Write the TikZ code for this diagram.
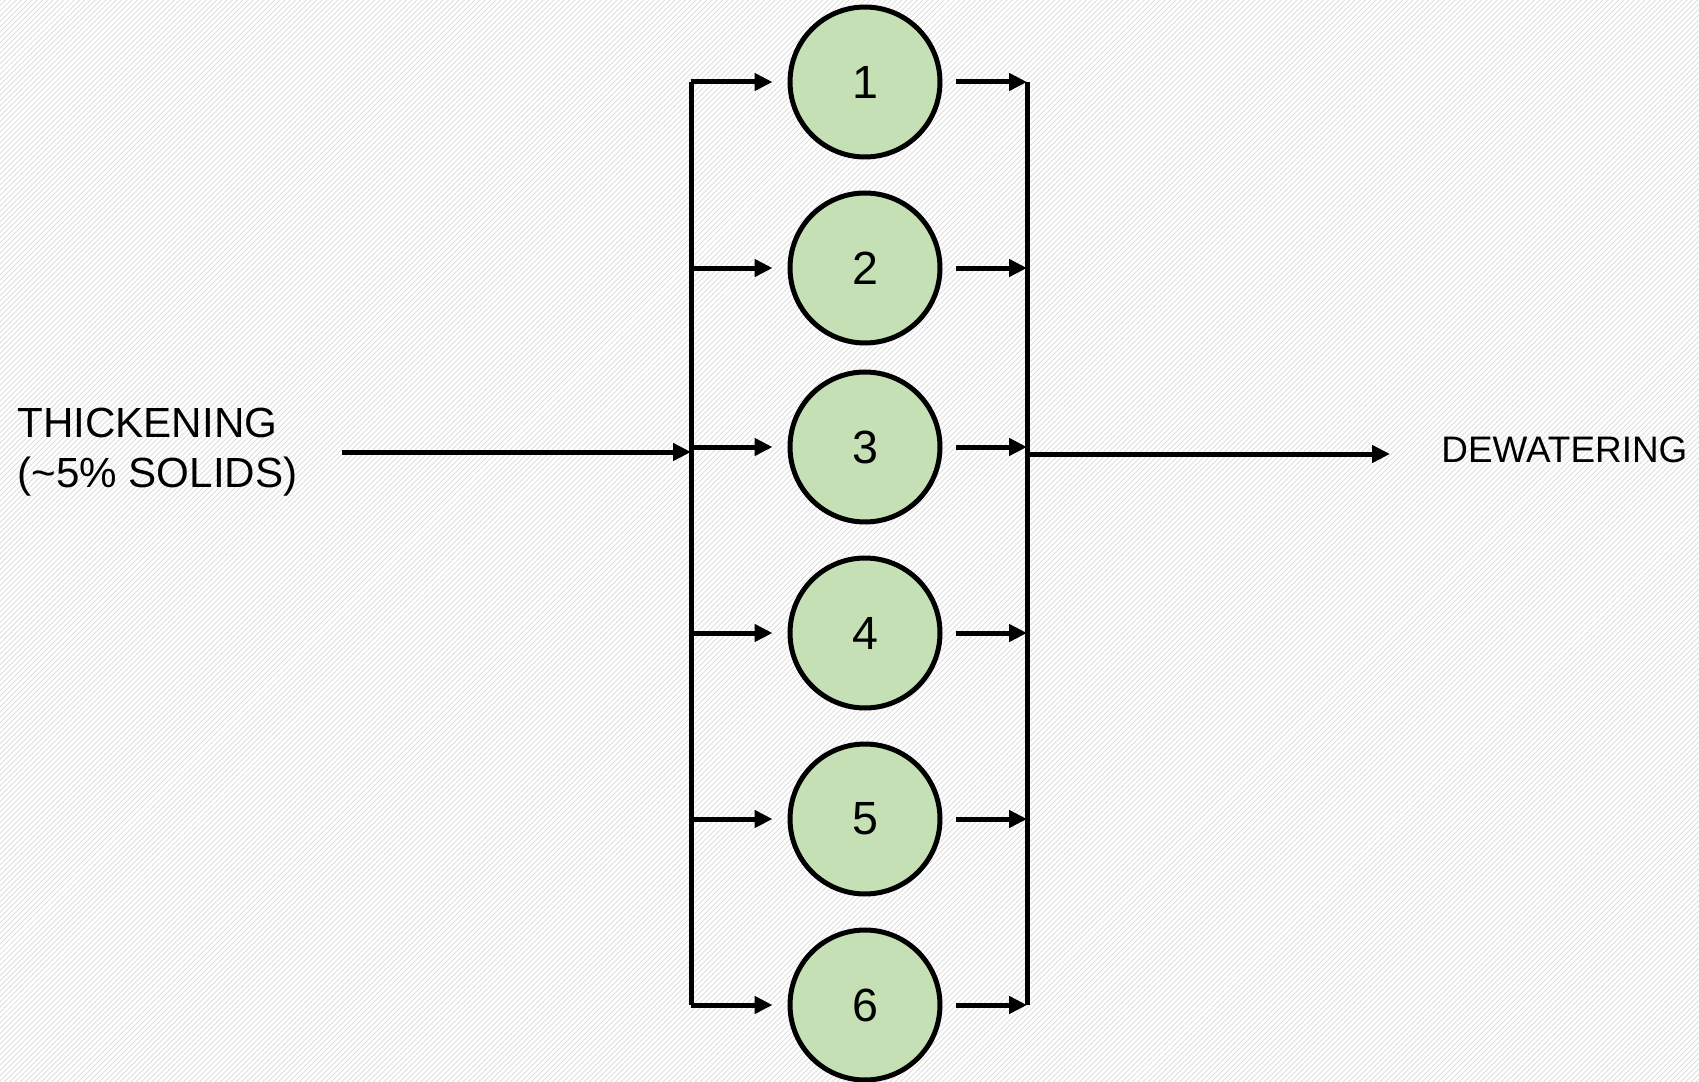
\documentclass[tikz,border=0pt]{standalone}
\usepackage{fontspec}
\setmainfont{Liberation Sans}
\usetikzlibrary{arrows.meta,patterns}

\definecolor{unitgreen}{RGB}{197,224,180}

\tikzset{
  unit/.style={draw, circle, line width=0.1cm, fill=unitgreen,
    minimum size=3cm, inner sep=0pt, font=\fontsize{26.5}{30}\selectfont},
  flow/.style={line width=0.1cm, -{Triangle[length=0.36cm, width=0.34cm]}},
  bus/.style={line width=0.1cm},
  plain text/.style={inner sep=0pt, align=left}
}

\begin{document}
\begin{tikzpicture}[x=0.02cm, y=-0.02cm]
      \def \lbus {691}
      \def \rbus {1027}
      \def \ys {82, 268, 447, 633, 819, 1005}

      \useasboundingbox (0,0) rectangle (1699,1081);
      \fill[pattern=north east lines, pattern color=black!15] (0,0) rectangle (1699,1081);

      \foreach \y [count=\s] in \ys
      {
	\node[unit] (c\s) at (865,\y) {\s};
	\coordinate (l\s) at (\lbus,\y);
	\coordinate (r\s) at (\rbus,\y);
	\draw[flow, shorten >=0.3cm] (l\s) -- (c\s);
	\draw[flow, shorten <=0.27cm] (c\s) -- (r\s);
      }

      \draw[bus] (l1) -- (l6);
      \draw[bus] (r1) -- (r6);

      \node[plain text, anchor=west, font=\fontsize{24}{28.5}\selectfont] (thick) at (17,452)
	{THICKENING\\(\textasciitilde5\% SOLIDS)};
      \node[plain text, anchor=west, font=\fontsize{21}{25}\selectfont] (dewat) at (1441,449.5)
	{DEWATERING};

      \coordinate (drain) at (1390,454);
      \draw[flow, shorten <=0.88cm] (thick) -- (thick -| l3);
      \draw[flow] (drain -| r3) -- (drain);
    \end{tikzpicture}
\end{document}
